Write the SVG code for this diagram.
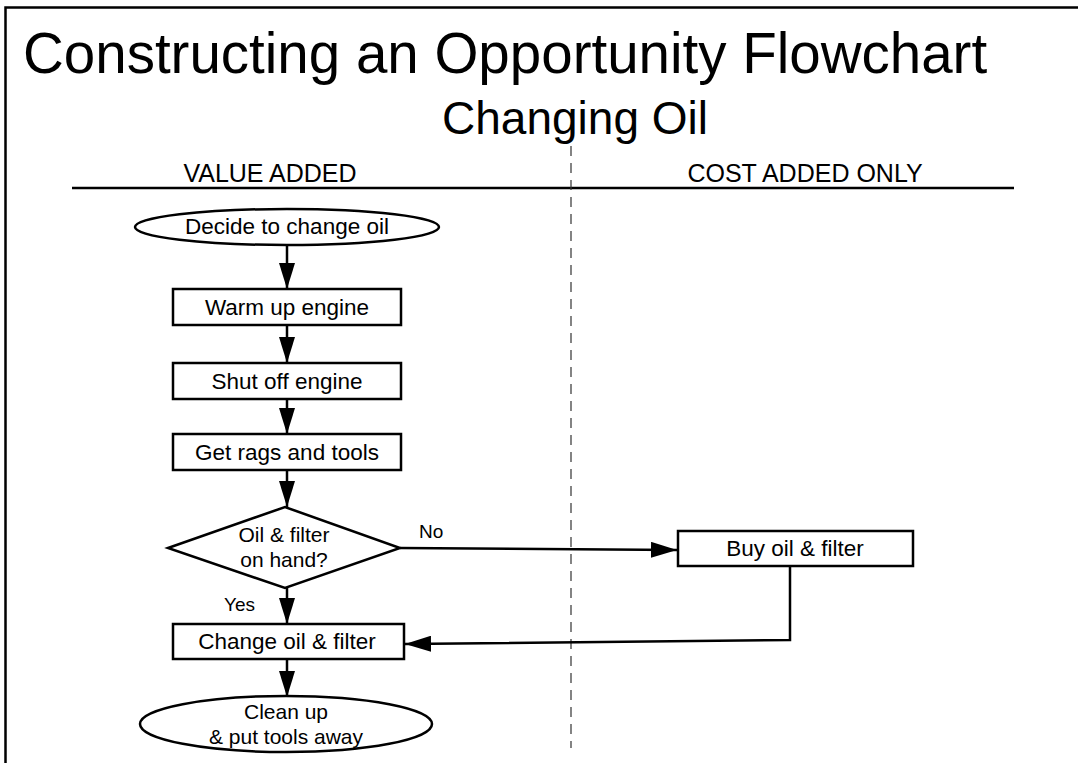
<svg xmlns="http://www.w3.org/2000/svg" width="1078" height="763" viewBox="0 0 1078 763">
<defs>
<marker id="ah" markerWidth="26" markerHeight="16" refX="26" refY="8" orient="auto" markerUnits="userSpaceOnUse">
<path d="M0,0 L26,8 L0,16 Z" fill="#000"/>
</marker>
<style>
text{font-family:"Liberation Sans",Arial,sans-serif;fill:#000}
.box{fill:#fff;stroke:#000;stroke-width:2.5}
.lbl{font-size:22.5px;text-anchor:middle}
.lbl2{font-size:21px;text-anchor:middle}
.con{fill:none;stroke:#000;stroke-width:2.5}
.hdr{font-size:25px;text-anchor:middle}
.yn{font-size:19px}
</style>
</defs>
<rect x="0" y="0" width="1078" height="763" fill="#fff"/>
<path d="M5.5,763 L5.5,7.5 L1078,7.5" fill="none" stroke="#000" stroke-width="2.5"/>
<text x="23" y="73" font-size="56.5">Constructing an Opportunity Flowchart</text>
<text x="575" y="134" font-size="46" text-anchor="middle">Changing Oil</text>
<text class="hdr" x="270" y="182">VALUE ADDED</text>
<text class="hdr" x="805" y="182">COST ADDED ONLY</text>
<line x1="72" y1="188" x2="1014" y2="188" stroke="#000" stroke-width="2.5"/>
<line x1="571" y1="146" x2="571" y2="748" stroke="#333" stroke-width="1.2" stroke-dasharray="10,7"/>
<g id="connectors">
<line class="con" x1="287" y1="245" x2="287" y2="289" marker-end="url(#ah)"/>
<line class="con" x1="287" y1="325" x2="287" y2="363" marker-end="url(#ah)"/>
<line class="con" x1="287" y1="399" x2="287" y2="434" marker-end="url(#ah)"/>
<line class="con" x1="287" y1="470" x2="287" y2="507" marker-end="url(#ah)"/>
<line class="con" x1="287" y1="588" x2="287" y2="624" marker-end="url(#ah)"/>
<line class="con" x1="287" y1="659" x2="287" y2="697" marker-end="url(#ah)"/>
<line class="con" x1="400" y1="548" x2="677" y2="550" marker-end="url(#ah)"/>
<polyline class="con" points="790,566 790,640 405,644" marker-end="url(#ah)"/>
<text class="yn" x="419" y="538">No</text>
<text class="yn" x="224" y="611">Yes</text>
</g>
<g id="n1"><ellipse class="box" cx="287" cy="227" rx="152" ry="18"/><text class="lbl" x="287" y="234">Decide to change oil</text></g>
<g id="n2"><rect class="box" x="173" y="289" width="228" height="36"/><text class="lbl" x="287" y="315">Warm up engine</text></g>
<g id="n3"><rect class="box" x="173" y="363" width="228" height="36"/><text class="lbl" x="287" y="389">Shut off engine</text></g>
<g id="n4"><rect class="box" x="173" y="434" width="228" height="36"/><text class="lbl" x="287" y="460">Get rags and tools</text></g>
<g id="n5"><polygon class="box" points="168,548 285,507 400,548 285,588"/><text class="lbl2" x="284" y="542">Oil &amp; filter</text><text class="lbl2" x="284" y="566.5">on hand?</text></g>
<g id="n6"><rect class="box" x="678" y="531" width="235" height="35"/><text class="lbl" x="795" y="556">Buy oil &amp; filter</text></g>
<g id="n7"><rect class="box" x="173" y="624" width="231" height="35"/><text class="lbl" x="287" y="649">Change oil &amp; filter</text></g>
<g id="n8"><ellipse class="box" cx="286" cy="724" rx="146" ry="28"/><text class="lbl2" x="286" y="719">Clean up</text><text class="lbl2" x="286" y="743.5">&amp; put tools away</text></g>
</svg>
